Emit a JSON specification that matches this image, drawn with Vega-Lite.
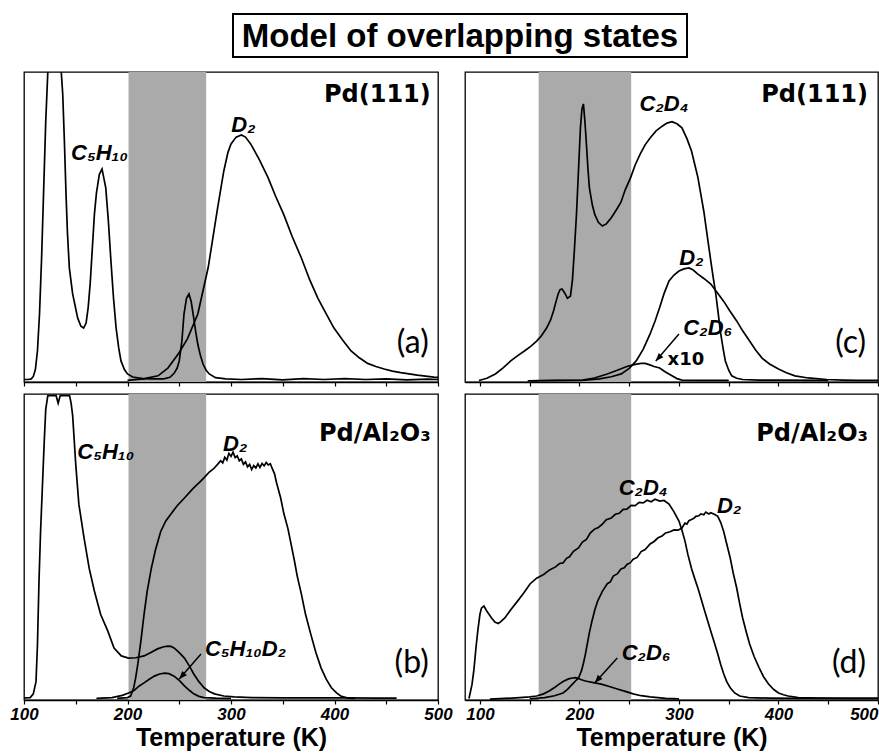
{
  "$schema": "https://vega.github.io/schema/vega-lite/v6.json",
  "padding": {"left": 9, "top": 13, "right": 0, "bottom": 0},
  "background": "white",
  "config": {
    "view": {"stroke": "black", "strokeWidth": 1.3},
    "axisX": {"domainColor": "black", "domainWidth": 1.6, "tickColor": "black", "tickSize": 4, "tickWidth": 1.2, "grid": false,
      "labelFont": "Liberation Sans", "labelFontWeight": "bold", "labelFontStyle": "italic", "labelFontSize": 17, "labelColor": "black", "labelPadding": 2,
      "titleFont": "Liberation Sans", "titleFontSize": 25, "titleFontWeight": "bold", "titleColor": "black", "titlePadding": 3}
  },
  "datasets": {
    "bands": [
      {"p": "a", "T1": 201, "T2": 276}, {"p": "b", "T1": 201, "T2": 276},
      {"p": "c", "T1": 159, "T2": 252}, {"p": "d", "T1": 159, "T2": 252}
    ],
    "labels": [
      {"p": "a", "k": "species", "text": "C₅H₁₀", "T": 173, "v": 74},
      {"p": "a", "k": "species", "text": "D₂", "T": 312, "v": 83},
      {"p": "a", "k": "site", "text": "Pd(111)", "T": 493, "v": 92.5},
      {"p": "a", "k": "letter", "text": "(a)", "T": 491, "v": 12.6},
      {"p": "b", "k": "species", "text": "C₅H₁₀", "T": 179, "v": 81},
      {"p": "b", "k": "species", "text": "D₂", "T": 304, "v": 83.6},
      {"p": "b", "k": "species", "text": "C₅H₁₀D₂", "T": 314, "v": 16.7},
      {"p": "b", "k": "site", "text": "Pd/Al₂O₃", "T": 493, "v": 87},
      {"p": "b", "k": "letter", "text": "(b)", "T": 491, "v": 12},
      {"p": "c", "k": "species", "text": "C₂D₄", "T": 285, "v": 89.7},
      {"p": "c", "k": "species", "text": "D₂", "T": 312.6, "v": 40},
      {"p": "c", "k": "species", "text": "C₂D₆", "T": 329, "v": 17.4},
      {"p": "c", "k": "note", "text": "x10", "T": 307, "v": 7},
      {"p": "c", "k": "site", "text": "Pd(111)", "T": 490, "v": 92.5},
      {"p": "c", "k": "letter", "text": "(c)", "T": 488, "v": 12.6},
      {"p": "d", "k": "species", "text": "C₂D₄", "T": 264, "v": 69.3},
      {"p": "d", "k": "species", "text": "D₂", "T": 350.5, "v": 63.4},
      {"p": "d", "k": "species", "text": "C₂D₆", "T": 267, "v": 15.4},
      {"p": "d", "k": "site", "text": "Pd/Al₂O₃", "T": 490, "v": 87},
      {"p": "d", "k": "letter", "text": "(d)", "T": 488, "v": 12}
    ],
    "arrows": [
      {"p": "b", "T": 271, "v": 15, "T2": 250, "v2": 6.9},
      {"p": "c", "T": 300, "v": 15.5, "T2": 276.7, "v2": 6.8},
      {"p": "d", "T": 238, "v": 13.7, "T2": 215.5, "v2": 5.6}
    ],
    "a": [
      {"s":"C5H10","T":100,"v":0.8},{"s":"C5H10","T":104,"v":0.8},{"s":"C5H10","T":107,"v":1},{"s":"C5H10","T":109,"v":1.8},{"s":"C5H10","T":111,"v":4},{"s":"C5H10","T":113,"v":10},{"s":"C5H10","T":115,"v":22},{"s":"C5H10","T":117,"v":40},{"s":"C5H10","T":119,"v":62},{"s":"C5H10","T":121,"v":84},{"s":"C5H10","T":123,"v":100},{"s":"C5H10","T":126,"v":125},{"s":"C5H10","T":130,"v":135},{"s":"C5H10","T":134,"v":118},{"s":"C5H10","T":136,"v":100},{"s":"C5H10","T":137.4,"v":93},{"s":"C5H10","T":139,"v":78},{"s":"C5H10","T":140.6,"v":60.6},{"s":"C5H10","T":142,"v":48},{"s":"C5H10","T":143.8,"v":36.8},{"s":"C5H10","T":147,"v":28.4},{"s":"C5H10","T":151.9,"v":20.6},{"s":"C5H10","T":155,"v":18},{"s":"C5H10","T":157.6,"v":17.4},{"s":"C5H10","T":160,"v":19},{"s":"C5H10","T":162,"v":24},{"s":"C5H10","T":164,"v":32},{"s":"C5H10","T":166,"v":43},{"s":"C5H10","T":168,"v":54},{"s":"C5H10","T":170,"v":61},{"s":"C5H10","T":172.8,"v":67},{"s":"C5H10","T":175.4,"v":68.7},{"s":"C5H10","T":177,"v":66},{"s":"C5H10","T":179,"v":62.6},{"s":"C5H10","T":181.5,"v":52},{"s":"C5H10","T":184,"v":39},{"s":"C5H10","T":186.5,"v":27},{"s":"C5H10","T":189,"v":17.4},{"s":"C5H10","T":191.5,"v":11},{"s":"C5H10","T":193.7,"v":6.8},{"s":"C5H10","T":197,"v":4},{"s":"C5H10","T":200,"v":2.6},{"s":"C5H10","T":205,"v":1.6},{"s":"C5H10","T":215,"v":1.1},{"s":"C5H10","T":225,"v":1},{"s":"C5H10","T":235,"v":1},{"s":"C5H10","T":241,"v":1.5},{"s":"C5H10","T":245,"v":2.8},{"s":"C5H10","T":248,"v":4.5},{"s":"C5H10","T":250,"v":6.8},{"s":"C5H10","T":252.5,"v":13},{"s":"C5H10","T":254.6,"v":22},{"s":"C5H10","T":257,"v":27},{"s":"C5H10","T":259.4,"v":28.4},{"s":"C5H10","T":261.5,"v":26},{"s":"C5H10","T":264,"v":20.6},{"s":"C5H10","T":266,"v":16},{"s":"C5H10","T":268,"v":12},{"s":"C5H10","T":270.5,"v":8.5},{"s":"C5H10","T":273,"v":5.8},{"s":"C5H10","T":276,"v":3.8},{"s":"C5H10","T":279,"v":2.6},{"s":"C5H10","T":285,"v":1.4},{"s":"C5H10","T":295,"v":1},{"s":"C5H10","T":310,"v":0.8},{"s":"C5H10","T":330,"v":1.1},{"s":"C5H10","T":350,"v":0.7},{"s":"C5H10","T":370,"v":1.1},{"s":"C5H10","T":390,"v":0.8},{"s":"C5H10","T":410,"v":1.1},{"s":"C5H10","T":430,"v":0.8},{"s":"C5H10","T":450,"v":1},{"s":"C5H10","T":470,"v":0.7},{"s":"C5H10","T":490,"v":0.9},{"s":"C5H10","T":500,"v":0.8},
      {"s":"D2","T":200,"v":0.5},{"s":"D2","T":215,"v":1},{"s":"D2","T":229.5,"v":2},{"s":"D2","T":239,"v":4.5},{"s":"D2","T":249,"v":9},{"s":"D2","T":258,"v":14},{"s":"D2","T":268,"v":22},{"s":"D2","T":278,"v":37},{"s":"D2","T":287,"v":56},{"s":"D2","T":293,"v":68},{"s":"D2","T":297,"v":74},{"s":"D2","T":300,"v":76.8},{"s":"D2","T":305,"v":79},{"s":"D2","T":310,"v":79.7},{"s":"D2","T":314,"v":79},{"s":"D2","T":319,"v":76.8},{"s":"D2","T":327,"v":72},{"s":"D2","T":335.7,"v":66},{"s":"D2","T":343,"v":60},{"s":"D2","T":351,"v":54},{"s":"D2","T":359,"v":47},{"s":"D2","T":368,"v":40},{"s":"D2","T":376,"v":33},{"s":"D2","T":384,"v":27},{"s":"D2","T":392,"v":22},{"s":"D2","T":399.5,"v":17.4},{"s":"D2","T":408,"v":13.5},{"s":"D2","T":416,"v":10},{"s":"D2","T":424,"v":7.8},{"s":"D2","T":432,"v":6},{"s":"D2","T":440,"v":5},{"s":"D2","T":448,"v":4.2},{"s":"D2","T":456,"v":3.5},{"s":"D2","T":464,"v":3},{"s":"D2","T":480,"v":2.2},{"s":"D2","T":496,"v":1.6},{"s":"D2","T":500,"v":1.5}
    ],
    "b": [
      {"s":"C5H10","T":100,"v":0.7},{"s":"C5H10","T":106,"v":0.8},{"s":"C5H10","T":109,"v":2},{"s":"C5H10","T":111.6,"v":6},{"s":"C5H10","T":113,"v":18},{"s":"C5H10","T":114.5,"v":39},{"s":"C5H10","T":116,"v":55},{"s":"C5H10","T":118,"v":71.6},{"s":"C5H10","T":119.5,"v":84},{"s":"C5H10","T":121,"v":95},{"s":"C5H10","T":123,"v":99.5},{"s":"C5H10","T":131,"v":99.5},{"s":"C5H10","T":133,"v":97},{"s":"C5H10","T":135,"v":99.5},{"s":"C5H10","T":144,"v":99.5},{"s":"C5H10","T":145.5,"v":97},{"s":"C5H10","T":147,"v":93},{"s":"C5H10","T":148.5,"v":85},{"s":"C5H10","T":150,"v":77},{"s":"C5H10","T":153,"v":64},{"s":"C5H10","T":158,"v":53},{"s":"C5H10","T":163,"v":43},{"s":"C5H10","T":168,"v":35.6},{"s":"C5H10","T":174,"v":28},{"s":"C5H10","T":181,"v":22.5},{"s":"C5H10","T":187,"v":17},{"s":"C5H10","T":194,"v":14.4},{"s":"C5H10","T":201,"v":13.7},{"s":"C5H10","T":208,"v":13.8},{"s":"C5H10","T":216,"v":14.4},{"s":"C5H10","T":223,"v":15.6},{"s":"C5H10","T":229,"v":16.7},{"s":"C5H10","T":235,"v":17.4},{"s":"C5H10","T":239,"v":17.6},{"s":"C5H10","T":242,"v":17.5},{"s":"C5H10","T":245,"v":17},{"s":"C5H10","T":250,"v":15.5},{"s":"C5H10","T":255,"v":13.7},{"s":"C5H10","T":260,"v":11},{"s":"C5H10","T":264,"v":8.5},{"s":"C5H10","T":269,"v":6},{"s":"C5H10","T":274,"v":4},{"s":"C5H10","T":279,"v":2.8},{"s":"C5H10","T":284,"v":2},{"s":"C5H10","T":293,"v":1.3},{"s":"C5H10","T":303,"v":1},{"s":"C5H10","T":320,"v":0.8},{"s":"C5H10","T":350,"v":0.7},{"s":"C5H10","T":380,"v":0.7},{"s":"C5H10","T":410,"v":0.7},{"s":"C5H10","T":440,"v":0.6},{"s":"C5H10","T":460,"v":0.6},
      {"s":"C5H10D2","T":170,"v":0.5},{"s":"C5H10D2","T":185,"v":0.8},{"s":"C5H10D2","T":195,"v":1.5},{"s":"C5H10D2","T":201,"v":2.3},{"s":"C5H10D2","T":206,"v":3},{"s":"C5H10D2","T":211,"v":4.5},{"s":"C5H10D2","T":216,"v":5.6},{"s":"C5H10D2","T":221,"v":6.8},{"s":"C5H10D2","T":226,"v":7.8},{"s":"C5H10D2","T":231,"v":8.5},{"s":"C5H10D2","T":236,"v":8.8},{"s":"C5H10D2","T":240,"v":8.6},{"s":"C5H10D2","T":245,"v":7.8},{"s":"C5H10D2","T":250,"v":6.4},{"s":"C5H10D2","T":255,"v":4.6},{"s":"C5H10D2","T":260,"v":3.1},{"s":"C5H10D2","T":264,"v":2},{"s":"C5H10D2","T":269,"v":1.2},{"s":"C5H10D2","T":274,"v":0.8},{"s":"C5H10D2","T":285,"v":0.6},{"s":"C5H10D2","T":300,"v":0.5},
      {"s":"D2","T":190,"v":0.5},{"s":"D2","T":200,"v":0.8},{"s":"D2","T":203,"v":1.3},{"s":"D2","T":206,"v":4},{"s":"D2","T":208,"v":7.5},{"s":"D2","T":210,"v":11.8},{"s":"D2","T":213,"v":19.5},{"s":"D2","T":216,"v":28},{"s":"D2","T":219,"v":35.5},{"s":"D2","T":223,"v":43},{"s":"D2","T":227,"v":49},{"s":"D2","T":232,"v":55},{"s":"D2","T":237,"v":58.5},{"s":"D2","T":242,"v":60.8},{"s":"D2","T":248,"v":63.5},{"s":"D2","T":255,"v":66},{"s":"D2","T":263,"v":69},{"s":"D2","T":271,"v":71.6},{"s":"D2","T":275,"v":73},{"s":"D2","T":279,"v":74.5},{"s":"D2","T":283,"v":75.5},{"s":"D2","T":287,"v":77},{"s":"D2","T":290,"v":78.2},{"s":"D2","T":292,"v":77.5},{"s":"D2","T":294,"v":79.3},{"s":"D2","T":296,"v":78.4},{"s":"D2","T":298,"v":80.6},{"s":"D2","T":300,"v":79.6},{"s":"D2","T":302,"v":81},{"s":"D2","T":304,"v":79.2},{"s":"D2","T":306,"v":79.8},{"s":"D2","T":308,"v":78.2},{"s":"D2","T":310,"v":78.8},{"s":"D2","T":312,"v":77},{"s":"D2","T":314,"v":77.8},{"s":"D2","T":316,"v":76.2},{"s":"D2","T":318,"v":77},{"s":"D2","T":320,"v":75.3},{"s":"D2","T":322,"v":76.6},{"s":"D2","T":324,"v":75.8},{"s":"D2","T":326,"v":77.2},{"s":"D2","T":328,"v":76},{"s":"D2","T":330,"v":77.3},{"s":"D2","T":332,"v":76.5},{"s":"D2","T":334,"v":77.6},{"s":"D2","T":336,"v":76.8},{"s":"D2","T":338,"v":77.2},{"s":"D2","T":340,"v":75.5},{"s":"D2","T":342,"v":74},{"s":"D2","T":344,"v":71},{"s":"D2","T":348,"v":66},{"s":"D2","T":351,"v":61},{"s":"D2","T":355,"v":56},{"s":"D2","T":358,"v":51},{"s":"D2","T":361,"v":46},{"s":"D2","T":364,"v":40.5},{"s":"D2","T":368,"v":34.6},{"s":"D2","T":372,"v":28},{"s":"D2","T":377,"v":21.6},{"s":"D2","T":382,"v":15.5},{"s":"D2","T":387,"v":10.5},{"s":"D2","T":392,"v":6.8},{"s":"D2","T":397,"v":4},{"s":"D2","T":402,"v":2.3},{"s":"D2","T":406,"v":1.3},{"s":"D2","T":413,"v":0.6},{"s":"D2","T":420,"v":0.5}
    ],
    "c": [
      {"s":"C2D4","T":99,"v":0.5},{"s":"C2D4","T":107,"v":1.2},{"s":"C2D4","T":115.5,"v":2.6},{"s":"C2D4","T":123,"v":4.5},{"s":"C2D4","T":131,"v":6.8},{"s":"C2D4","T":138,"v":8.5},{"s":"C2D4","T":144.7,"v":10},{"s":"C2D4","T":151,"v":11.5},{"s":"C2D4","T":157,"v":13.2},{"s":"C2D4","T":162,"v":15},{"s":"C2D4","T":167,"v":17.4},{"s":"C2D4","T":171,"v":20},{"s":"C2D4","T":174,"v":23},{"s":"C2D4","T":176.5,"v":26},{"s":"C2D4","T":178.6,"v":28.4},{"s":"C2D4","T":180.5,"v":29.8},{"s":"C2D4","T":182.5,"v":30},{"s":"C2D4","T":185,"v":28.8},{"s":"C2D4","T":188,"v":27},{"s":"C2D4","T":191,"v":27.7},{"s":"C2D4","T":193,"v":33},{"s":"C2D4","T":195,"v":43},{"s":"C2D4","T":197,"v":54},{"s":"C2D4","T":199,"v":68},{"s":"C2D4","T":201,"v":82},{"s":"C2D4","T":202.5,"v":88},{"s":"C2D4","T":204,"v":89.7},{"s":"C2D4","T":205.5,"v":84},{"s":"C2D4","T":207,"v":76.8},{"s":"C2D4","T":208.5,"v":69},{"s":"C2D4","T":210,"v":62.6},{"s":"C2D4","T":213,"v":57},{"s":"C2D4","T":215.5,"v":54},{"s":"C2D4","T":219,"v":51.5},{"s":"C2D4","T":223,"v":50.3},{"s":"C2D4","T":227,"v":51},{"s":"C2D4","T":232,"v":53},{"s":"C2D4","T":237,"v":55.5},{"s":"C2D4","T":241.7,"v":58},{"s":"C2D4","T":246,"v":62},{"s":"C2D4","T":251.5,"v":66},{"s":"C2D4","T":256,"v":70},{"s":"C2D4","T":261,"v":73.5},{"s":"C2D4","T":266,"v":76.5},{"s":"C2D4","T":271,"v":78.7},{"s":"C2D4","T":277,"v":81},{"s":"C2D4","T":283.5,"v":82.6},{"s":"C2D4","T":288,"v":83.5},{"s":"C2D4","T":293,"v":84},{"s":"C2D4","T":298,"v":83.3},{"s":"C2D4","T":303,"v":82},{"s":"C2D4","T":308,"v":78.5},{"s":"C2D4","T":312.6,"v":74.5},{"s":"C2D4","T":316,"v":70},{"s":"C2D4","T":319,"v":66},{"s":"C2D4","T":322,"v":60.5},{"s":"C2D4","T":325,"v":55},{"s":"C2D4","T":328.5,"v":47},{"s":"C2D4","T":332,"v":39},{"s":"C2D4","T":334.5,"v":33.5},{"s":"C2D4","T":337,"v":28.4},{"s":"C2D4","T":339.5,"v":22},{"s":"C2D4","T":342,"v":15.5},{"s":"C2D4","T":344.5,"v":10.5},{"s":"C2D4","T":346.6,"v":6.8},{"s":"C2D4","T":350,"v":3.8},{"s":"C2D4","T":353,"v":2},{"s":"C2D4","T":358,"v":1.2},{"s":"C2D4","T":364,"v":0.8},{"s":"C2D4","T":380,"v":0.6},{"s":"C2D4","T":400,"v":0.6},{"s":"C2D4","T":450,"v":0.5},
      {"s":"D2","T":150,"v":0.4},{"s":"D2","T":203,"v":0.5},{"s":"D2","T":220,"v":1},{"s":"D2","T":232,"v":1.7},{"s":"D2","T":242,"v":2.6},{"s":"D2","T":250,"v":4.4},{"s":"D2","T":257,"v":6.8},{"s":"D2","T":264,"v":10.5},{"s":"D2","T":271,"v":15.5},{"s":"D2","T":276,"v":19.7},{"s":"D2","T":280.6,"v":24},{"s":"D2","T":285,"v":28.5},{"s":"D2","T":290,"v":32.6},{"s":"D2","T":295,"v":34.5},{"s":"D2","T":300,"v":35.8},{"s":"D2","T":305,"v":36.5},{"s":"D2","T":310,"v":36.8},{"s":"D2","T":314,"v":36.2},{"s":"D2","T":319,"v":34.8},{"s":"D2","T":325,"v":33.4},{"s":"D2","T":332,"v":31.6},{"s":"D2","T":338,"v":29},{"s":"D2","T":345,"v":26},{"s":"D2","T":351,"v":23},{"s":"D2","T":358,"v":19.7},{"s":"D2","T":364,"v":16.5},{"s":"D2","T":371,"v":13.2},{"s":"D2","T":377,"v":10.3},{"s":"D2","T":383.5,"v":7.7},{"s":"D2","T":391,"v":5.8},{"s":"D2","T":400,"v":4.2},{"s":"D2","T":408,"v":3},{"s":"D2","T":416.5,"v":2},{"s":"D2","T":430,"v":1.3},{"s":"D2","T":448.5,"v":0.8},{"s":"D2","T":465,"v":0.6},{"s":"D2","T":480,"v":0.5},{"s":"D2","T":500,"v":0.5},
      {"s":"C2D6","T":148,"v":0.4},{"s":"C2D6","T":180,"v":0.5},{"s":"C2D6","T":203,"v":0.6},{"s":"C2D6","T":215,"v":1.3},{"s":"C2D6","T":228,"v":2.6},{"s":"C2D6","T":238,"v":3.8},{"s":"C2D6","T":247.6,"v":5},{"s":"C2D6","T":256,"v":5.7},{"s":"C2D6","T":262,"v":6},{"s":"C2D6","T":266,"v":6},{"s":"C2D6","T":270,"v":5.6},{"s":"C2D6","T":275,"v":5},{"s":"C2D6","T":280.6,"v":4.5},{"s":"C2D6","T":286,"v":3.3},{"s":"C2D6","T":293,"v":2},{"s":"C2D6","T":298,"v":1.1},{"s":"C2D6","T":303,"v":0.6},{"s":"C2D6","T":320,"v":0.5},{"s":"C2D6","T":350,"v":0.5}
    ],
    "d": [
      {"s":"C2D4","T":89,"v":0.5},{"s":"C2D4","T":92,"v":5},{"s":"C2D4","T":94,"v":10},{"s":"C2D4","T":96,"v":17},{"s":"C2D4","T":98,"v":23},{"s":"C2D4","T":100,"v":28},{"s":"C2D4","T":101.5,"v":30},{"s":"C2D4","T":104,"v":30.7},{"s":"C2D4","T":107,"v":29},{"s":"C2D4","T":111.7,"v":26.8},{"s":"C2D4","T":115,"v":25.5},{"s":"C2D4","T":118.4,"v":25},{"s":"C2D4","T":121,"v":25.6},{"s":"C2D4","T":125,"v":26.8},{"s":"C2D4","T":131,"v":29.5},{"s":"C2D4","T":138,"v":32.4},{"s":"C2D4","T":144,"v":35},{"s":"C2D4","T":150.5,"v":38},{"s":"C2D4","T":157,"v":39.8},{"s":"C2D4","T":164,"v":41},{"s":"C2D4","T":170,"v":42.5},{"s":"C2D4","T":176,"v":43.5},{"s":"C2D4","T":180,"v":44.6},{"s":"C2D4","T":183.5,"v":44.8},{"s":"C2D4","T":187,"v":46.3},{"s":"C2D4","T":190,"v":46.8},{"s":"C2D4","T":194,"v":48.6},{"s":"C2D4","T":199,"v":49.7},{"s":"C2D4","T":203,"v":51.6},{"s":"C2D4","T":207,"v":52.5},{"s":"C2D4","T":211,"v":54.6},{"s":"C2D4","T":215.5,"v":55.9},{"s":"C2D4","T":219,"v":56.4},{"s":"C2D4","T":223,"v":57.5},{"s":"C2D4","T":227,"v":58.9},{"s":"C2D4","T":232,"v":59.5},{"s":"C2D4","T":236,"v":60.7},{"s":"C2D4","T":240,"v":61},{"s":"C2D4","T":244,"v":62.3},{"s":"C2D4","T":247.6,"v":62.4},{"s":"C2D4","T":252,"v":63.6},{"s":"C2D4","T":256,"v":63.5},{"s":"C2D4","T":260,"v":64.6},{"s":"C2D4","T":264,"v":64.4},{"s":"C2D4","T":268,"v":65.3},{"s":"C2D4","T":272,"v":64.8},{"s":"C2D4","T":276,"v":65.6},{"s":"C2D4","T":280.6,"v":65},{"s":"C2D4","T":285,"v":65.2},{"s":"C2D4","T":290,"v":64},{"s":"C2D4","T":295,"v":61.5},{"s":"C2D4","T":300,"v":58.5},{"s":"C2D4","T":303,"v":55.5},{"s":"C2D4","T":306,"v":52},{"s":"C2D4","T":309,"v":47.5},{"s":"C2D4","T":312.6,"v":43},{"s":"C2D4","T":316,"v":39.5},{"s":"C2D4","T":319,"v":36.6},{"s":"C2D4","T":322,"v":33.3},{"s":"C2D4","T":325,"v":30},{"s":"C2D4","T":328.5,"v":26.2},{"s":"C2D4","T":332,"v":22.5},{"s":"C2D4","T":335.5,"v":18.8},{"s":"C2D4","T":339,"v":15},{"s":"C2D4","T":342,"v":11.5},{"s":"C2D4","T":345,"v":8.5},{"s":"C2D4","T":348,"v":6},{"s":"C2D4","T":351.5,"v":4},{"s":"C2D4","T":356,"v":2.3},{"s":"C2D4","T":361,"v":1.3},{"s":"C2D4","T":370,"v":0.8},{"s":"C2D4","T":390,"v":0.6},{"s":"C2D4","T":420,"v":0.5},{"s":"C2D4","T":470,"v":0.5},{"s":"C2D4","T":500,"v":0.5},
      {"s":"D2","T":150,"v":0.4},{"s":"D2","T":165,"v":0.8},{"s":"D2","T":175,"v":1.4},{"s":"D2","T":183.5,"v":2.3},{"s":"D2","T":188,"v":3.5},{"s":"D2","T":193,"v":5.2},{"s":"D2","T":196,"v":6.2},{"s":"D2","T":199,"v":7.2},{"s":"D2","T":202,"v":9.5},{"s":"D2","T":204,"v":12},{"s":"D2","T":206,"v":15},{"s":"D2","T":208,"v":18.5},{"s":"D2","T":210,"v":22},{"s":"D2","T":212.6,"v":25.8},{"s":"D2","T":215.5,"v":29.5},{"s":"D2","T":218.4,"v":32.4},{"s":"D2","T":223,"v":35.5},{"s":"D2","T":228,"v":38},{"s":"D2","T":231,"v":38.6},{"s":"D2","T":234,"v":40.5},{"s":"D2","T":238,"v":41.2},{"s":"D2","T":241.7,"v":42.8},{"s":"D2","T":245,"v":43.2},{"s":"D2","T":248,"v":44.4},{"s":"D2","T":251,"v":44.8},{"s":"D2","T":254,"v":46},{"s":"D2","T":258,"v":46.6},{"s":"D2","T":262,"v":48.5},{"s":"D2","T":266,"v":49.2},{"s":"D2","T":271,"v":51},{"s":"D2","T":275,"v":51.8},{"s":"D2","T":279,"v":53},{"s":"D2","T":283,"v":53.6},{"s":"D2","T":286.6,"v":54.6},{"s":"D2","T":291,"v":55},{"s":"D2","T":295,"v":55.6},{"s":"D2","T":299,"v":55.5},{"s":"D2","T":303,"v":56.2},{"s":"D2","T":306,"v":57.8},{"s":"D2","T":308,"v":57.5},{"s":"D2","T":310,"v":58.6},{"s":"D2","T":312.6,"v":59},{"s":"D2","T":315,"v":59.4},{"s":"D2","T":317,"v":60},{"s":"D2","T":320,"v":60.2},{"s":"D2","T":322,"v":60.8},{"s":"D2","T":325,"v":60.5},{"s":"D2","T":327,"v":61.4},{"s":"D2","T":330,"v":60.8},{"s":"D2","T":332,"v":61.2},{"s":"D2","T":336,"v":60.6},{"s":"D2","T":339,"v":60},{"s":"D2","T":342,"v":58},{"s":"D2","T":345,"v":55},{"s":"D2","T":348,"v":51},{"s":"D2","T":351.5,"v":46.4},{"s":"D2","T":354.5,"v":41.5},{"s":"D2","T":358,"v":36.6},{"s":"D2","T":361,"v":31.5},{"s":"D2","T":364,"v":26.8},{"s":"D2","T":367.5,"v":22.4},{"s":"D2","T":371,"v":18.3},{"s":"D2","T":375.5,"v":14.2},{"s":"D2","T":380.6,"v":10.5},{"s":"D2","T":385,"v":7.6},{"s":"D2","T":390,"v":5.2},{"s":"D2","T":395,"v":3.5},{"s":"D2","T":400,"v":2.3},{"s":"D2","T":405,"v":1.7},{"s":"D2","T":409.7,"v":1.3},{"s":"D2","T":420,"v":0.8},{"s":"D2","T":440,"v":0.6},{"s":"D2","T":470,"v":0.5},{"s":"D2","T":500,"v":0.5},
      {"s":"C2D6","T":110,"v":0.3},{"s":"C2D6","T":125,"v":0.5},{"s":"C2D6","T":140,"v":0.8},{"s":"C2D6","T":150,"v":1},{"s":"C2D6","T":157,"v":1.3},{"s":"C2D6","T":164,"v":2},{"s":"C2D6","T":170,"v":3},{"s":"C2D6","T":175,"v":4.1},{"s":"C2D6","T":179.6,"v":5.2},{"s":"C2D6","T":184,"v":6.1},{"s":"C2D6","T":189,"v":6.9},{"s":"C2D6","T":193,"v":7.2},{"s":"C2D6","T":196,"v":7.3},{"s":"C2D6","T":199,"v":7},{"s":"C2D6","T":202,"v":6.6},{"s":"C2D6","T":206,"v":6.2},{"s":"C2D6","T":214,"v":5.7},{"s":"C2D6","T":222,"v":5.2},{"s":"C2D6","T":230,"v":4.4},{"s":"C2D6","T":238,"v":3.6},{"s":"C2D6","T":246,"v":2.8},{"s":"C2D6","T":254,"v":2},{"s":"C2D6","T":262,"v":1.4},{"s":"C2D6","T":271,"v":1},{"s":"C2D6","T":286.6,"v":0.5},{"s":"C2D6","T":300,"v":0.4}
    ]
  },
  "vconcat": [
    {
      "hconcat": [
        {
          "width": 208, "height": 43,
          "view": {"stroke": null},
          "data": {"values": [{"t": ""}]},
          "mark": {"type": "text"},
          "encoding": {"text": {"field": "t"}}
        },
        {
          "width": 454, "height": 43,
          "view": {"stroke": "black", "strokeWidth": 2},
          "data": {"values": [{"t": "Model of overlapping states"}]},
          "mark": {"type": "text", "font": "Liberation Sans", "fontWeight": "bold", "fontSize": 33, "color": "black", "align": "center", "baseline": "middle", "dy": 1},
          "encoding": {"text": {"field": "t"}}
        }
      ],
      "spacing": 0
    },
    {
      "hconcat": [
        {
          "vconcat": [
            {
              "width": 414, "height": 310,
              "layer": [
                {"data": {"name": "bands"}, "transform": [{"filter": "datum.p === 'a'"}], "mark": {"type": "rect", "color": "#aaaaaa"},
                 "encoding": {"x": {"field": "T1", "type": "quantitative", "scale": {"domain": [100, 500], "nice": false, "zero": false}, "axis": {"values": [100,150,200,250,300,350,400,450,500], "labels": false, "title": null}}, "x2": {"field": "T2"}}},
                {"data": {"name": "a"}, "mark": {"type": "line", "color": "black", "strokeWidth": 1.7, "clip": true},
                 "encoding": {"x": {"field": "T", "type": "quantitative"}, "y": {"field": "v", "type": "quantitative", "scale": {"domain": [0, 100], "nice": false, "zero": false}, "axis": null}, "detail": {"field": "s"}}},
                {"data": {"name": "labels"}, "transform": [{"filter": "datum.p === 'a' && datum.k === 'species'"}], "mark": {"type": "text", "font": "Liberation Sans", "fontWeight": "bold", "fontStyle": "italic", "fontSize": 22, "color": "black", "baseline": "middle"},
                 "encoding": {"x": {"field": "T", "type": "quantitative"}, "y": {"field": "v", "type": "quantitative"}, "text": {"field": "text"}}},
                {"data": {"name": "labels"}, "transform": [{"filter": "datum.p === 'a' && datum.k === 'site'"}], "mark": {"type": "text", "font": "DejaVu Sans", "fontWeight": "bold", "fontSize": 24, "color": "black", "align": "right", "baseline": "middle"},
                 "encoding": {"x": {"field": "T", "type": "quantitative"}, "y": {"field": "v", "type": "quantitative"}, "text": {"field": "text"}}},
                {"data": {"name": "labels"}, "transform": [{"filter": "datum.p === 'a' && datum.k === 'letter'"}], "mark": {"type": "text", "font": "Lato", "fontWeight": 400, "fontSize": 32, "color": "black", "align": "right", "baseline": "middle"},
                 "encoding": {"x": {"field": "T", "type": "quantitative"}, "y": {"field": "v", "type": "quantitative"}, "text": {"field": "text"}}}
              ]
            },
            {
              "width": 414, "height": 306,
              "layer": [
                {"data": {"name": "bands"}, "transform": [{"filter": "datum.p === 'b'"}], "mark": {"type": "rect", "color": "#aaaaaa"},
                 "encoding": {"x": {"field": "T1", "type": "quantitative", "scale": {"domain": [100, 500], "nice": false, "zero": false}, "axis": {"values": [100,150,200,250,300,350,400,450,500], "labelExpr": "datum.value % 100 === 0 ? datum.label : ''", "labelFlush": false, "title": "Temperature (K)"}}, "x2": {"field": "T2"}}},
                {"data": {"name": "b"}, "mark": {"type": "line", "color": "black", "strokeWidth": 1.7, "clip": true},
                 "encoding": {"x": {"field": "T", "type": "quantitative"}, "y": {"field": "v", "type": "quantitative", "scale": {"domain": [0, 100], "nice": false, "zero": false}, "axis": null}, "detail": {"field": "s"}}},
                {"data": {"name": "arrows"}, "transform": [{"filter": "datum.p === 'b'"}], "mark": {"type": "rule", "color": "black", "strokeWidth": 1.5},
                 "encoding": {"x": {"field": "T", "type": "quantitative"}, "y": {"field": "v", "type": "quantitative"}, "x2": {"field": "T2"}, "y2": {"field": "v2"}}},
                {"data": {"name": "arrows"}, "transform": [{"filter": "datum.p === 'b'"}], "mark": {"type": "point", "shape": "M0,0L-0.4,1L0.4,1Z", "filled": true, "color": "black", "opacity": 1, "size": 250, "angle": 222},
                 "encoding": {"x": {"field": "T2", "type": "quantitative"}, "y": {"field": "v2", "type": "quantitative"}}},
                {"data": {"name": "labels"}, "transform": [{"filter": "datum.p === 'b' && datum.k === 'species'"}], "mark": {"type": "text", "font": "Liberation Sans", "fontWeight": "bold", "fontStyle": "italic", "fontSize": 22, "color": "black", "baseline": "middle"},
                 "encoding": {"x": {"field": "T", "type": "quantitative"}, "y": {"field": "v", "type": "quantitative"}, "text": {"field": "text"}}},
                {"data": {"name": "labels"}, "transform": [{"filter": "datum.p === 'b' && datum.k === 'site'"}], "mark": {"type": "text", "font": "DejaVu Sans", "fontWeight": "bold", "fontSize": 24, "color": "black", "align": "right", "baseline": "middle"},
                 "encoding": {"x": {"field": "T", "type": "quantitative"}, "y": {"field": "v", "type": "quantitative"}, "text": {"field": "text"}}},
                {"data": {"name": "labels"}, "transform": [{"filter": "datum.p === 'b' && datum.k === 'letter'"}], "mark": {"type": "text", "font": "Lato", "fontWeight": 400, "fontSize": 32, "color": "black", "align": "right", "baseline": "middle"},
                 "encoding": {"x": {"field": "T", "type": "quantitative"}, "y": {"field": "v", "type": "quantitative"}, "text": {"field": "text"}}}
              ]
            }
          ],
          "spacing": 12, "bounds": "flush"
        },
        {
          "vconcat": [
            {
              "width": 413, "height": 310,
              "layer": [
                {"data": {"name": "bands"}, "transform": [{"filter": "datum.p === 'c'"}], "mark": {"type": "rect", "color": "#aaaaaa"},
                 "encoding": {"x": {"field": "T1", "type": "quantitative", "scale": {"domain": [85, 500], "nice": false, "zero": false}, "axis": {"values": [100,150,200,250,300,350,400,450,500], "labels": false, "title": null}}, "x2": {"field": "T2"}}},
                {"data": {"name": "c"}, "mark": {"type": "line", "color": "black", "strokeWidth": 1.7, "clip": true},
                 "encoding": {"x": {"field": "T", "type": "quantitative"}, "y": {"field": "v", "type": "quantitative", "scale": {"domain": [0, 100], "nice": false, "zero": false}, "axis": null}, "detail": {"field": "s"}}},
                {"data": {"name": "arrows"}, "transform": [{"filter": "datum.p === 'c'"}], "mark": {"type": "rule", "color": "black", "strokeWidth": 1.5},
                 "encoding": {"x": {"field": "T", "type": "quantitative"}, "y": {"field": "v", "type": "quantitative"}, "x2": {"field": "T2"}, "y2": {"field": "v2"}}},
                {"data": {"name": "arrows"}, "transform": [{"filter": "datum.p === 'c'"}], "mark": {"type": "point", "shape": "M0,0L-0.4,1L0.4,1Z", "filled": true, "color": "black", "opacity": 1, "size": 250, "angle": 222},
                 "encoding": {"x": {"field": "T2", "type": "quantitative"}, "y": {"field": "v2", "type": "quantitative"}}},
                {"data": {"name": "labels"}, "transform": [{"filter": "datum.p === 'c' && datum.k === 'species'"}], "mark": {"type": "text", "font": "Liberation Sans", "fontWeight": "bold", "fontStyle": "italic", "fontSize": 22, "color": "black", "baseline": "middle"},
                 "encoding": {"x": {"field": "T", "type": "quantitative"}, "y": {"field": "v", "type": "quantitative"}, "text": {"field": "text"}}},
                {"data": {"name": "labels"}, "transform": [{"filter": "datum.p === 'c' && datum.k === 'note'"}], "mark": {"type": "text", "font": "DejaVu Sans", "fontWeight": "bold", "fontSize": 18, "color": "black", "baseline": "middle"},
                 "encoding": {"x": {"field": "T", "type": "quantitative"}, "y": {"field": "v", "type": "quantitative"}, "text": {"field": "text"}}},
                {"data": {"name": "labels"}, "transform": [{"filter": "datum.p === 'c' && datum.k === 'site'"}], "mark": {"type": "text", "font": "DejaVu Sans", "fontWeight": "bold", "fontSize": 24, "color": "black", "align": "right", "baseline": "middle"},
                 "encoding": {"x": {"field": "T", "type": "quantitative"}, "y": {"field": "v", "type": "quantitative"}, "text": {"field": "text"}}},
                {"data": {"name": "labels"}, "transform": [{"filter": "datum.p === 'c' && datum.k === 'letter'"}], "mark": {"type": "text", "font": "Lato", "fontWeight": 400, "fontSize": 32, "color": "black", "align": "right", "baseline": "middle"},
                 "encoding": {"x": {"field": "T", "type": "quantitative"}, "y": {"field": "v", "type": "quantitative"}, "text": {"field": "text"}}}
              ]
            },
            {
              "width": 413, "height": 306,
              "layer": [
                {"data": {"name": "bands"}, "transform": [{"filter": "datum.p === 'd'"}], "mark": {"type": "rect", "color": "#aaaaaa"},
                 "encoding": {"x": {"field": "T1", "type": "quantitative", "scale": {"domain": [85, 500], "nice": false, "zero": false}, "axis": {"values": [100,150,200,250,300,350,400,450,500], "labelExpr": "datum.value % 100 === 0 ? datum.label : ''", "labelFlush": true, "title": "Temperature (K)"}}, "x2": {"field": "T2"}}},
                {"data": {"name": "d"}, "mark": {"type": "line", "color": "black", "strokeWidth": 1.7, "clip": true},
                 "encoding": {"x": {"field": "T", "type": "quantitative"}, "y": {"field": "v", "type": "quantitative", "scale": {"domain": [0, 100], "nice": false, "zero": false}, "axis": null}, "detail": {"field": "s"}}},
                {"data": {"name": "arrows"}, "transform": [{"filter": "datum.p === 'd'"}], "mark": {"type": "rule", "color": "black", "strokeWidth": 1.5},
                 "encoding": {"x": {"field": "T", "type": "quantitative"}, "y": {"field": "v", "type": "quantitative"}, "x2": {"field": "T2"}, "y2": {"field": "v2"}}},
                {"data": {"name": "arrows"}, "transform": [{"filter": "datum.p === 'd'"}], "mark": {"type": "point", "shape": "M0,0L-0.4,1L0.4,1Z", "filled": true, "color": "black", "opacity": 1, "size": 250, "angle": 222},
                 "encoding": {"x": {"field": "T2", "type": "quantitative"}, "y": {"field": "v2", "type": "quantitative"}}},
                {"data": {"name": "labels"}, "transform": [{"filter": "datum.p === 'd' && datum.k === 'species'"}], "mark": {"type": "text", "font": "Liberation Sans", "fontWeight": "bold", "fontStyle": "italic", "fontSize": 22, "color": "black", "baseline": "middle"},
                 "encoding": {"x": {"field": "T", "type": "quantitative"}, "y": {"field": "v", "type": "quantitative"}, "text": {"field": "text"}}},
                {"data": {"name": "labels"}, "transform": [{"filter": "datum.p === 'd' && datum.k === 'site'"}], "mark": {"type": "text", "font": "DejaVu Sans", "fontWeight": "bold", "fontSize": 24, "color": "black", "align": "right", "baseline": "middle"},
                 "encoding": {"x": {"field": "T", "type": "quantitative"}, "y": {"field": "v", "type": "quantitative"}, "text": {"field": "text"}}},
                {"data": {"name": "labels"}, "transform": [{"filter": "datum.p === 'd' && datum.k === 'letter'"}], "mark": {"type": "text", "font": "Lato", "fontWeight": 400, "fontSize": 32, "color": "black", "align": "right", "baseline": "middle"},
                 "encoding": {"x": {"field": "T", "type": "quantitative"}, "y": {"field": "v", "type": "quantitative"}, "text": {"field": "text"}}}
              ]
            }
          ],
          "spacing": 12, "bounds": "flush"
        }
      ],
      "spacing": 11
    }
  ],
  "spacing": 13
}
